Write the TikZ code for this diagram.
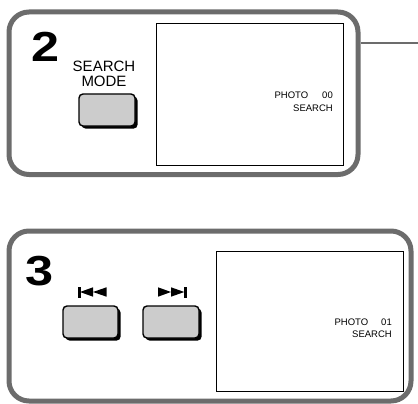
\documentclass[tikz,border=0pt]{standalone}
\usepackage{fontspec}
\setmainfont{Liberation Sans}
\usetikzlibrary{shadows}
\definecolor{panelgray}{RGB}{108,108,108}
\definecolor{btnfill}{RGB}{204,204,204}
\tikzset{
  panel/.style={draw=panelgray, line width=5pt, rounded corners=20pt, inner sep=0pt},
  screen/.style={draw=black, line width=1pt, inner sep=0pt, fill=white},
  button/.style={draw=black, line width=1.4pt, fill=btnfill, rounded corners=4pt, inner sep=0pt,
    minimum width=55pt, minimum height=32pt,
    general shadow={fill=black, shadow xshift=2.6pt, shadow yshift=-2.6pt}},
  stepnum/.style={font=\fontsize{42}{42}\selectfont\bfseries, inner sep=0pt, anchor=base west},
  lbl/.style={font=\fontsize{15}{15}\selectfont, inner sep=0pt, anchor=base},
  osd/.style={font=\fontsize{9.5}{9.5}\selectfont, inner sep=0pt, anchor=base east},
  connector/.style={draw=panelgray, line width=2pt}
}
\begin{document}
\begin{tikzpicture}[x=1pt,y=-1pt]
\useasboundingbox (0,0) rectangle (418,404);
% panel 2
\node[panel, minimum width=349pt, minimum height=162.5pt] (panelA) at (183.5,93.25) {};
\node[screen, minimum width=187pt, minimum height=141pt] (screenA) at (249.5,94.5) {};
\node[stepnum] (numA) at (31.5,62) {\scalebox{1.2}[1]{2}};
\node[lbl] (searchlbl) at (104,72) {SEARCH};
\node[lbl] (modelbl) at (104,87) {MODE};
\node[button, minimum width=56pt] (btnA) at (107,110) {};
\node[osd] (photoA) at (333,99) {PHOTO\hspace{14pt}00};
\node[osd] (searchA) at (333,111) {SEARCH};
\coordinate (cend) at (418,43);
\draw[connector] (panelA.east |- cend) -- (cend);
% panel 3
\node[panel, minimum width=402pt, minimum height=170pt] (panelB) at (210,316) {};
\node[screen, minimum width=187pt, minimum height=140pt] (screenB) at (309.5,321) {};
\node[stepnum] (numB) at (25.5,285) {\scalebox{1.2}[1]{3}};
\node[button] (btnPrev) at (90.5,322) {};
\node[button, minimum width=56pt] (btnNext) at (171,322) {};
\node[osd] (photoB) at (392,325) {PHOTO\hspace{13pt}01};
\node[osd] (searchB) at (392,337) {SEARCH};
% icons
\fill (78,286.5) rectangle (80.6,297.5);
\fill (80,292) -- (93,287.3) -- (93,296.7) -- cycle;
\fill (93,292) -- (106.5,287.3) -- (106.5,296.7) -- cycle;
\fill (158,287.3) -- (158,296.7) -- (171,292) -- cycle;
\fill (171,287.3) -- (171,296.7) -- (184.3,292) -- cycle;
\fill (184,286.5) rectangle (186.7,297.5);
\end{tikzpicture}
\end{document}
